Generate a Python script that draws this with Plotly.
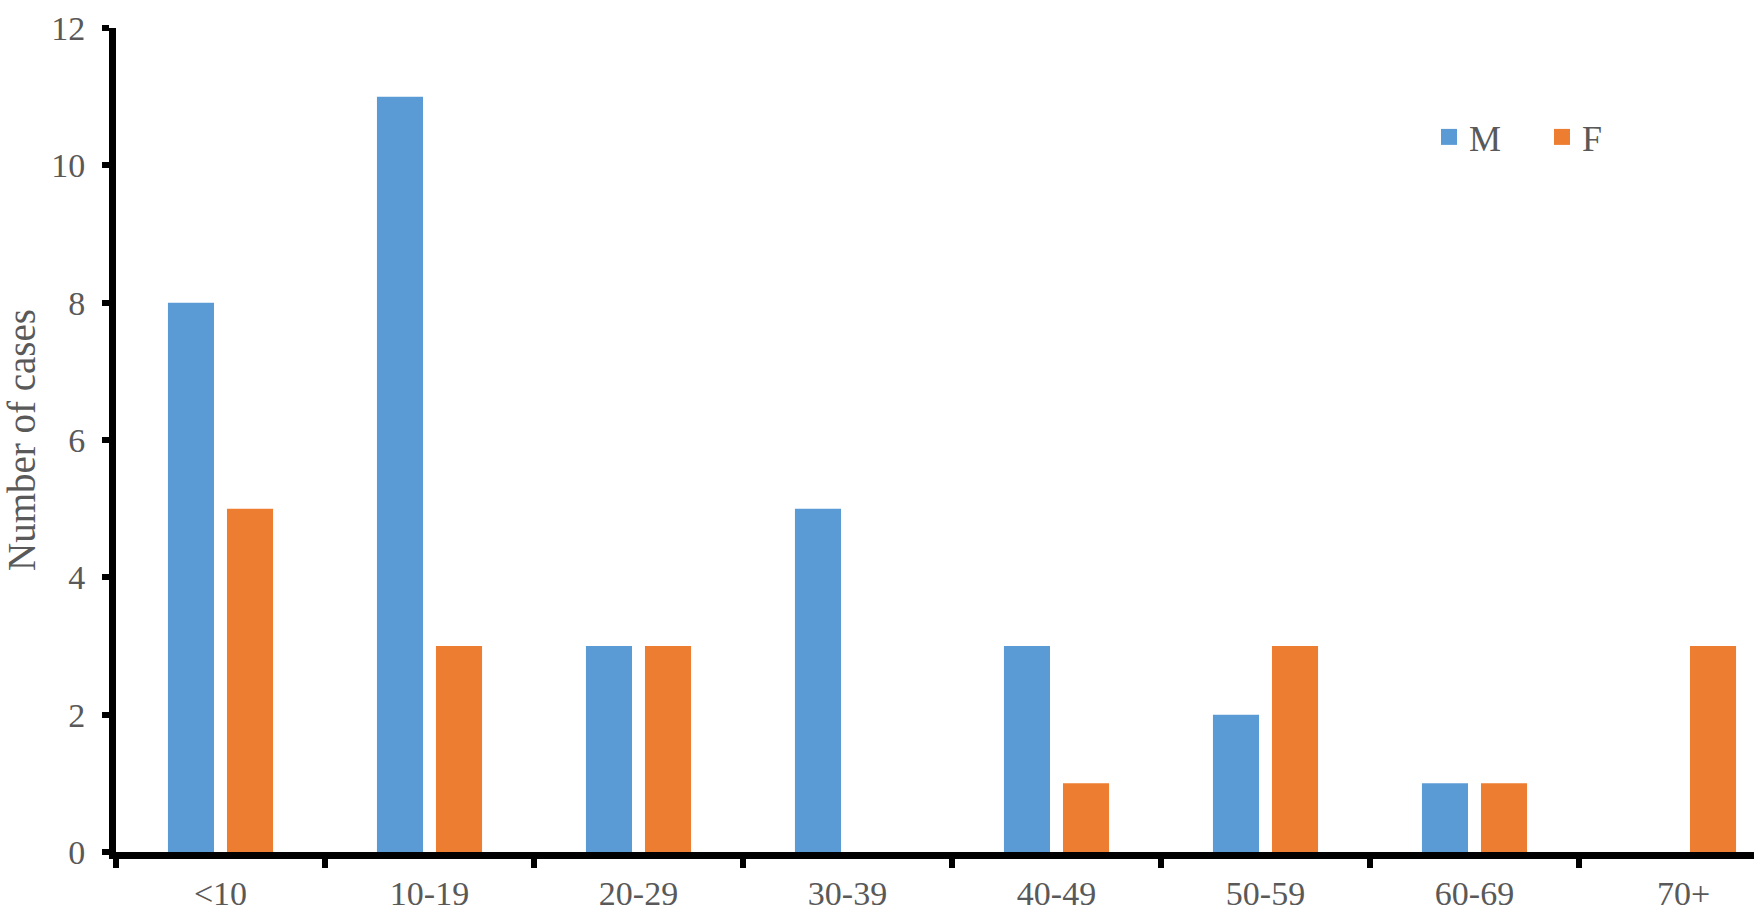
import plotly.graph_objects as go

categories = ["<10", "10-19", "20-29", "30-39", "40-49", "50-59", "60-69", "70+"]
male = [8, 11, 3, 5, 3, 2, 1, 0]
female = [5, 3, 3, 0, 1, 3, 1, 3]
y_ticks = [0, 2, 4, 6, 8, 10, 12]

BLUE = "#5B9BD5"
ORANGE = "#ED7D31"
GREY = "#595959"
FONT = "Liberation Serif, Times New Roman, serif"

fig = go.Figure()
fig.add_trace(go.Bar(x=categories, y=male, name="M", marker=dict(color=BLUE, line_width=0), showlegend=False))
fig.add_trace(go.Bar(x=categories, y=female, name="F", marker=dict(color=ORANGE, line_width=0), showlegend=False))
# legend-only entries with larger square swatches
fig.add_trace(go.Scatter(x=[None], y=[None], mode="markers", name="M",
                         marker=dict(symbol="square", size=18, color=BLUE)))
fig.add_trace(go.Scatter(x=[None], y=[None], mode="markers", name="F",
                         marker=dict(symbol="square", size=18, color=ORANGE)))

W, H = 1754, 918
L, R, T, B = 116, 0, 28, 66
cat_w = 209.0
plot_w = W - L - R

fig.update_layout(
    width=W, height=H,
    margin=dict(l=L, r=R, t=T, b=B, autoexpand=False),
    paper_bgcolor="white", plot_bgcolor="white",
    barmode="group", bargap=0.435, bargroupgap=0.22,
    font=dict(family=FONT, color=GREY, size=34),
    legend=dict(orientation="h", x=(1429 - L) / plot_w, xanchor="left",
                y=(852 - 137) / (852 - 28), yanchor="middle",
                font=dict(family=FONT, size=36, color=GREY),
                entrywidth=68, entrywidthmode="pixels",
                bgcolor="rgba(0,0,0,0)", itemsizing="trace"),
    xaxis=dict(
        type="category", range=[-0.5, -0.5 + plot_w / cat_w],
        showline=True, linecolor="black", linewidth=7,
        ticks="outside", tickson="boundaries", ticklen=9, tickwidth=6, tickcolor="black",
        showgrid=False, zeroline=False, ticklabelstandoff=5,
        tickfont=dict(family=FONT, size=34, color=GREY),
    ),
    yaxis=dict(
        range=[0, 12], tickvals=y_ticks,
        showline=True, linecolor="black", linewidth=7,
        ticks="outside", ticklen=7, tickwidth=6, tickcolor="black",
        showgrid=False, zeroline=False, ticklabelstandoff=10,
        tickfont=dict(family=FONT, size=34, color=GREY),
        title=dict(text="Number of cases", font=dict(family=FONT, size=39, color=GREY), standoff=6),
    ),
)

fig.write_html("out.html", config={"displayModeBar": False},
               post_script="document.body.style.margin='0px';")
